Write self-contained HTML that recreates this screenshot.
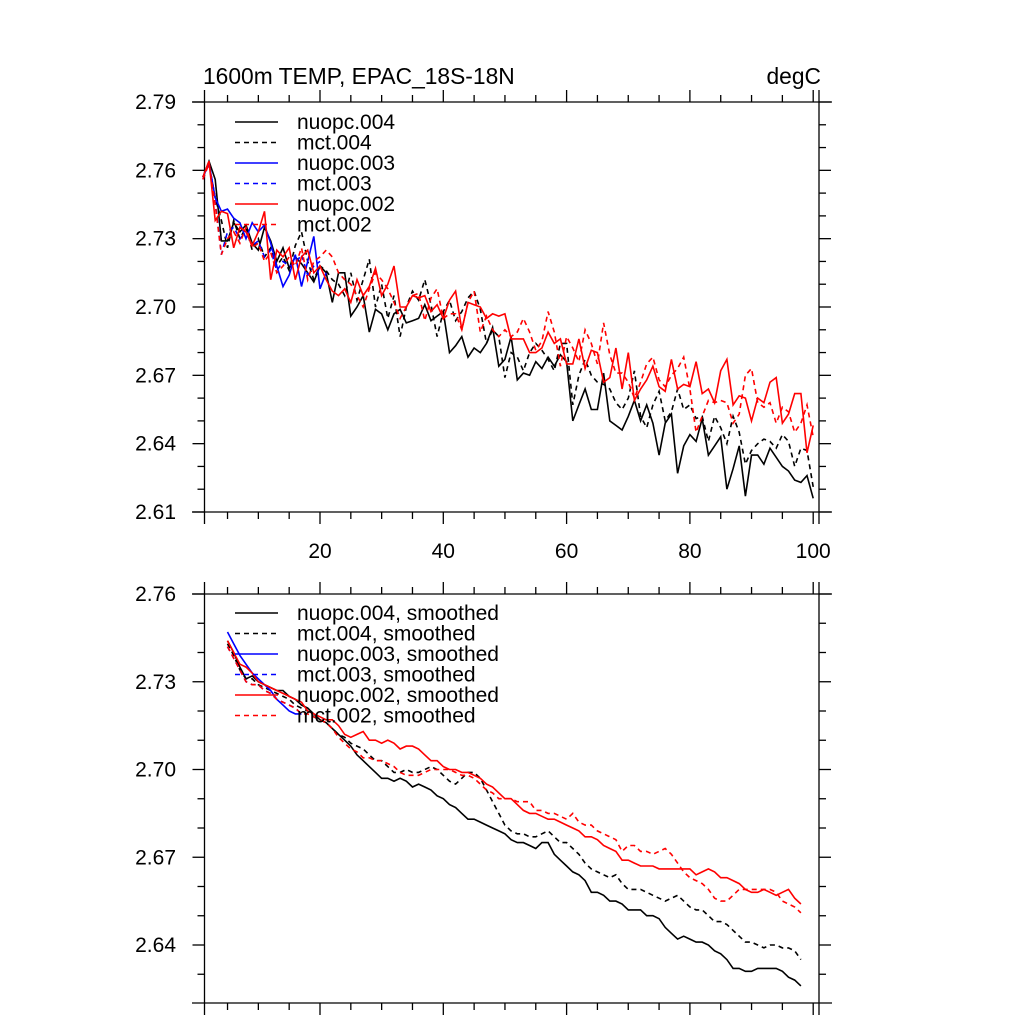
<!DOCTYPE html>
<html><head><meta charset="utf-8"><style>
html,body{margin:0;padding:0;background:#fff;}
svg{display:block;font-family:"Liberation Sans",sans-serif;}
</style></head><body>
<svg id="chart" width="1024" height="1024" viewBox="0 0 1024 1024" xmlns="http://www.w3.org/2000/svg">
<text x="203" y="84" font-size="22.8">1600m TEMP, EPAC_18S-18N</text>
<text x="821" y="84" font-size="22.8" text-anchor="end">degC</text>
</svg>
<script>
// ---- Top panel data (x = 1..100) ----
const nuopc004 = [2.757,2.764,2.756,2.729,2.729,2.737,2.733,2.736,2.728,2.725,2.735,2.729,2.720,2.726,2.717,2.722,2.719,2.715,2.711,2.718,2.715,2.702,2.715,2.715,2.696,2.700,2.705,2.689,2.699,2.697,2.690,2.697,2.699,2.693,
2.694,2.695,2.701,2.694,2.696,2.698,2.680,2.683,2.687,2.678,2.682,2.680,2.684,2.691,2.674,2.677,2.687,2.668,2.671,2.670,2.676,2.673,2.678,2.674,2.679,2.676,2.650,2.657,2.664,2.655,2.655,2.671,2.650,2.648,
2.646,2.652,2.659,2.650,2.657,2.649,2.635,2.649,2.653,2.627,2.639,2.644,2.641,2.651,2.635,2.639,2.643,2.620,2.629,2.639,2.617,2.635,2.635,2.631,2.638,2.634,2.630,2.628,2.624,2.623,2.626,2.616];
const mct004 = [2.757,2.763,2.748,2.738,2.726,2.738,2.730,2.735,2.725,2.730,2.722,2.726,2.718,2.722,2.716,2.727,2.733,2.720,2.712,2.718,
2.716,2.712,2.710,2.705,2.715,2.703,2.712,2.721,2.700,2.710,2.695,2.705,2.687,2.700,
2.707,2.703,2.712,2.701,2.687,2.698,2.703,2.694,2.698,2.704,2.707,2.699,2.684,2.690,2.687,2.669,2.680,2.678,2.672,2.680,2.684,2.681,2.677,2.672,2.684,2.684,2.657,2.670,2.677,2.670,2.667,2.666,2.664,2.658,
2.655,2.660,2.672,2.652,2.647,2.657,2.663,2.650,2.654,2.664,2.655,2.657,2.651,2.652,2.641,2.652,2.647,2.640,2.652,2.645,2.631,2.637,2.640,2.642,2.641,2.638,2.644,2.641,2.630,2.638,2.637,2.621];
const nuopc003 = [2.757,2.763,2.748,2.742,2.743,2.739,2.737,2.730,2.737,2.733,2.736,2.728,2.718,2.709,2.714,2.723,2.709,2.720,2.731,2.708,2.715];
const mct003 = [2.756,2.763,2.746,2.723,2.733,2.735,2.730,2.733,2.727,2.729,2.722,2.725,2.716,2.720,2.718,2.719,2.723,2.714,2.718,2.720];
const nuopc002 = [2.757,2.764,2.738,2.742,2.741,2.726,2.735,2.733,2.727,2.733,2.742,2.712,2.725,2.722,2.726,2.712,2.722,2.725,2.715,2.718,
2.712,2.707,2.705,2.708,2.702,2.712,2.705,2.709,2.717,2.705,2.710,2.718,2.700,2.700,
2.705,2.704,2.705,2.698,2.701,2.695,2.703,2.707,2.690,2.702,2.701,2.700,2.695,2.697,2.696,2.697,2.686,2.686,2.686,2.680,2.680,2.682,2.689,2.684,2.686,2.675,2.675,2.686,2.673,2.681,2.680,2.667,2.669,2.682,
2.664,2.680,2.659,2.664,2.668,2.674,2.665,2.663,2.677,2.664,2.666,2.665,2.676,2.662,2.664,2.658,2.672,2.677,2.657,2.661,2.660,2.650,2.660,2.658,2.667,2.669,2.649,2.653,2.662,2.662,2.636,2.648];
const mct002 = [2.756,2.763,2.745,2.723,2.730,2.733,2.728,2.735,2.726,2.728,2.720,2.724,2.715,2.718,2.722,2.718,2.726,2.712,2.720,2.722,
2.725,2.722,2.715,2.712,2.710,2.705,2.700,2.708,2.715,2.712,2.708,2.702,2.695,2.700,
2.705,2.706,2.694,2.704,2.708,2.695,2.697,2.697,2.690,2.702,2.707,2.689,2.696,2.690,2.687,2.690,2.687,2.689,2.695,2.689,2.681,2.685,2.698,2.689,2.674,2.687,2.682,2.676,2.690,2.684,2.675,2.693,2.679,2.671,
2.671,2.667,2.660,2.667,2.675,2.678,2.668,2.665,2.670,2.673,2.678,2.664,2.645,2.652,2.659,2.658,2.659,2.658,2.649,2.653,2.670,2.673,2.658,2.656,2.658,2.649,2.656,2.654,2.645,2.649,2.657,2.643];

// ---- Bottom panel data (smoothed, x = 5..98) ----
const smoothStart = 5;
const nuopc004s = [2.744,2.740,2.735,2.731,2.732,2.730,2.729,2.728,2.727,2.727,2.725,2.724,2.722,2.721,2.719,2.717,2.716,2.714,2.712,2.710,2.708,2.705,2.703,2.701,2.699,2.697,2.697,2.696,2.697,2.696,2.694,2.695,2.694,2.693,2.691,2.690,2.688,2.687,2.685,2.683,2.683,2.682,2.681,2.680,2.679,2.678,
2.676,2.675,2.675,2.674,2.673,2.675,2.675,2.671,2.669,2.667,2.665,2.664,2.662,2.658,2.658,2.657,2.655,2.655,2.654,2.652,2.652,2.652,2.650,2.650,2.649,2.646,2.644,2.642,2.643,2.642,2.641,2.641,2.640,2.638,2.637,2.635,2.632,2.632,2.631,2.631,2.632,2.632,2.632,2.632,2.631,2.629,2.628,2.626];
const mct004s = [2.743,2.739,2.734,2.731,2.731,2.729,2.728,2.727,2.726,2.725,2.724,2.722,2.721,2.720,2.718,2.717,2.716,2.714,2.712,2.711,2.709,2.708,2.707,2.705,2.703,2.703,2.701,2.699,2.699,2.700,2.699,2.699,2.700,2.701,2.700,2.698,2.696,2.695,2.697,2.699,2.699,2.697,2.693,2.689,2.685,2.681,
2.679,2.678,2.678,2.677,2.677,2.678,2.679,2.677,2.675,2.675,2.673,2.671,2.668,2.666,2.665,2.664,2.663,2.664,2.661,2.659,2.659,2.659,2.658,2.657,2.656,2.655,2.656,2.657,2.655,2.653,2.652,2.652,2.650,2.648,2.648,2.647,2.645,2.643,2.641,2.641,2.640,2.639,2.640,2.640,2.639,2.639,2.638,2.635];
const nuopc003s = [2.747,2.743,2.739,2.736,2.733,2.731,2.729,2.727,2.724,2.722,2.720,2.719,2.719];
const mct003s = [2.742,2.738,2.734,2.730,2.729,2.729,2.727,2.726,2.724,2.723,2.722,2.721,2.719];
const nuopc002s = [2.744,2.740,2.736,2.735,2.733,2.730,2.729,2.728,2.727,2.726,2.725,2.724,2.723,2.720,2.719,2.718,2.717,2.717,2.715,2.712,2.711,2.712,2.713,2.710,2.710,2.709,2.710,2.709,2.707,2.708,2.708,2.707,2.705,2.703,2.703,2.701,2.700,2.700,2.699,2.699,2.698,2.697,2.695,2.694,2.692,2.690,
2.690,2.688,2.686,2.685,2.685,2.684,2.683,2.683,2.682,2.681,2.680,2.679,2.677,2.677,2.676,2.674,2.673,2.672,2.669,2.669,2.668,2.667,2.667,2.667,2.666,2.666,2.666,2.666,2.666,2.666,2.664,2.665,2.666,2.665,2.663,2.663,2.662,2.661,2.659,2.658,2.658,2.659,2.658,2.657,2.658,2.659,2.656,2.654];
const mct002s = [2.742,2.738,2.734,2.730,2.729,2.729,2.727,2.726,2.724,2.723,2.722,2.721,2.719,2.719,2.718,2.717,2.716,2.714,2.711,2.709,2.707,2.706,2.704,2.704,2.703,2.703,2.702,2.701,2.699,2.698,2.698,2.698,2.699,2.700,2.700,2.700,2.700,2.699,2.698,2.698,2.697,2.695,2.693,2.692,2.690,2.690,
2.690,2.689,2.689,2.689,2.686,2.686,2.685,2.685,2.684,2.683,2.685,2.682,2.681,2.681,2.679,2.678,2.677,2.676,2.672,2.674,2.674,2.672,2.672,2.671,2.672,2.673,2.671,2.668,2.665,2.663,2.662,2.661,2.659,2.656,2.655,2.655,2.657,2.659,2.659,2.659,2.659,2.659,2.659,2.658,2.655,2.654,2.653,2.651];

const xTickLabels = ["20","40","60","80","100"];
const topYTicks = ["2.61","2.64","2.67","2.70","2.73","2.76","2.79"];
const botYTicks = ["2.64","2.67","2.70","2.73","2.76"];

const NS = "http://www.w3.org/2000/svg";
const svg = document.getElementById("chart");
function mk(tag, attrs, parent) {
  const e = document.createElementNS(NS, tag);
  for (const k in attrs) e.setAttribute(k, attrs[k]);
  (parent || svg).appendChild(e);
  return e;
}
const L = 204.5, R = 819;
function X(x) { return 196.7 + 6.165 * x; }
const topP = {y0: 102, y1: 512, vmax: 2.79, per: 68.333};
const botP = {y0: 594, y1: 1003, vmax: 2.76, per: 87.75};
function Yf(p) { return v => p.y0 + (p.vmax - v) / 0.03 * p.per; }

function panel(p, name, yTicks, showXLabels) {
  const g = mk("g", {});
  
  
  const Y = Yf(p);
  const axis = {stroke: "#000", "stroke-width": 1.3, fill: "none"};
  mk("line", Object.assign({x1: 192, x2: 832, y1: p.y0, y2: p.y0}, axis), g);
  mk("line", Object.assign({x1: 192, x2: 832, y1: p.y1, y2: p.y1}, axis), g);
  mk("line", Object.assign({x1: L, x2: L, y1: p.y0 - 12, y2: p.y1 + 12}, axis), g);
  mk("line", Object.assign({x1: R, x2: R, y1: p.y0 - 12, y2: p.y1 + 12}, axis), g);
  for (let k = 0; k < 40; k++) {
    const v = p.vmax - k * 0.01;
    const y = Y(v);
    if (y > p.y1 + 0.5) break;
    const major = k % 3 === 0;
    const len = major ? 12 : 7;
    mk("line", Object.assign({x1: L - len, x2: L, y1: y, y2: y}, axis), g);
    mk("line", Object.assign({x1: R, x2: R + len, y1: y, y2: y}, axis), g);
  }
  yTicks.forEach(t => {
    const tx = mk("text", {x: 176, y: Y(parseFloat(t)) + 7, "font-size": 21, "text-anchor": "end"}, g);
    
    
    tx.textContent = t;
  });
  for (let x = 5; x <= 100; x += 5) {
    const px = X(x);
    const major = x % 20 === 0;
    const len = major ? 12 : 7;
    mk("line", Object.assign({x1: px, x2: px, y1: p.y0 - len, y2: p.y0}, axis), g);
    mk("line", Object.assign({x1: px, x2: px, y1: p.y1, y2: p.y1 + len}, axis), g);
  }
  if (showXLabels) {
    xTickLabels.forEach(t => {
      const tx = mk("text", {x: X(parseFloat(t)), y: 558, "font-size": 21, "text-anchor": "middle"}, g);
      
      
      tx.textContent = t;
    });
  }
  return {g, Y};
}

function series(P, vals, start, color, dashed, name) {
  const pts = vals.map((v, i) => X(start + i).toFixed(1) + "," + P.Y(v).toFixed(1)).join(" ");
  const a = {points: pts, fill: "none", stroke: color, "stroke-width": 1.6, "stroke-linejoin": "miter"};
  if (dashed) a["stroke-dasharray"] = "5,4";
  const e = mk("polyline", a, P.g);
  
  
}

function legend(P, names, y0, name) {
  const lg = mk("g", {}, P.g);
  
  
  const cols = ["#000","#000","#00f","#00f","#f00","#f00"];
  names.forEach((n, i) => {
    const y = y0 + i * 20.5;
    const a = {x1: 235, x2: 278, y1: y, y2: y, stroke: cols[i], "stroke-width": 1.5};
    if (i % 2 === 1) a["stroke-dasharray"] = "5,4";
    const ln = mk("line", a, lg);
    
    
    const tx = mk("text", {x: 297, y: y + 7, "font-size": 21}, lg);
    
    
    tx.textContent = n;
  });
}

const T = panel(topP, "top-panel", topYTicks, true);
series(T, nuopc004, 1, "#000", false, "line-nuopc-004");
series(T, mct004, 1, "#000", true, "line-mct-004");
series(T, nuopc003, 1, "#00f", false, "line-nuopc-003");
series(T, mct003, 1, "#00f", true, "line-mct-003");
series(T, nuopc002, 1, "#f00", false, "line-nuopc-002");
series(T, mct002, 1, "#f00", true, "line-mct-002");
legend(T, ["nuopc.004","mct.004","nuopc.003","mct.003","nuopc.002","mct.002"], 122, "top-legend");

const B = panel(botP, "bottom-panel", botYTicks, false);
series(B, nuopc004s, smoothStart, "#000", false, "line-nuopc-004-smoothed");
series(B, mct004s, smoothStart, "#000", true, "line-mct-004-smoothed");
series(B, nuopc003s, smoothStart, "#00f", false, "line-nuopc-003-smoothed");
series(B, mct003s, smoothStart, "#00f", true, "line-mct-003-smoothed");
series(B, nuopc002s, smoothStart, "#f00", false, "line-nuopc-002-smoothed");
series(B, mct002s, smoothStart, "#f00", true, "line-mct-002-smoothed");
legend(B, ["nuopc.004, smoothed","mct.004, smoothed","nuopc.003, smoothed","mct.003, smoothed","nuopc.002, smoothed","mct.002, smoothed"], 613, "bottom-legend");
</script>
</body></html>
